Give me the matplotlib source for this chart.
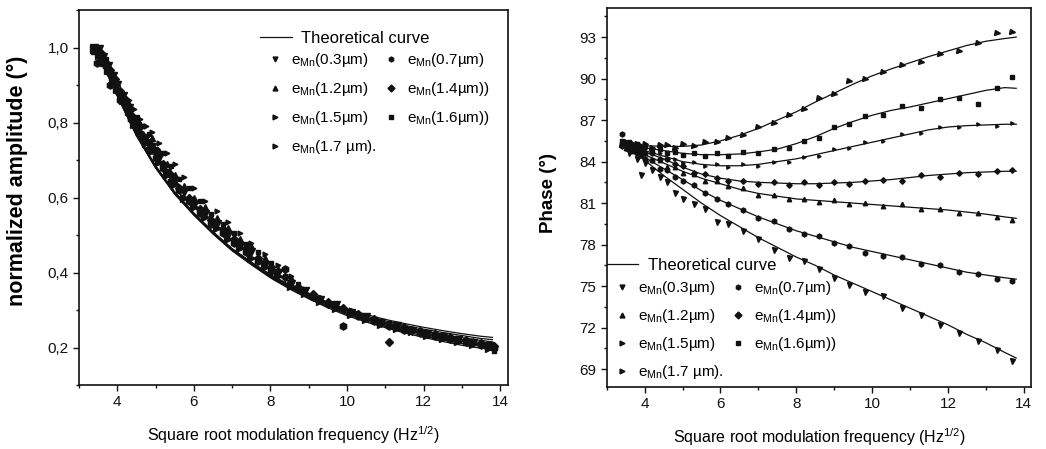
import matplotlib
matplotlib.use("Agg")
import matplotlib.pyplot as plt
from matplotlib.ticker import MultipleLocator

plt.rcParams["font.family"] = ["Liberation Sans", "DejaVu Sans"]
plt.rcParams["mathtext.default"] = "regular"

LABELS = ["(0.3µm)", "(0.7µm)", "(1.2µm)", "(1.4µm))", "(1.5µm)", "(1.6µm))", "(1.7 µm)."]
MARKERS = ["v", "h", "^", "D", ">", "s", ">"]
MSIZES = [4.5, 4.5, 4.0, 3.5, 3.0, 3.0, 4.5]

# grid of the theoretical curves (sqrt Hz)
TH_X = [3.4, 3.6, 3.8, 4.0, 4.5, 5.0, 5.5, 6.0, 6.5, 7.0, 7.5, 8.0, 8.5, 9.0,
        9.5, 10.0, 10.5, 11.0, 11.5, 12.0, 12.5, 13.0, 13.5, 13.8]

# ---- amplitude panel ----
# two interleaved frequency sets (series 0,2,4,6 on A; 1,3,5 on B)
X_AMP_A = [3.40, 3.52, 3.64, 3.76, 3.88, 4.00, 4.15, 4.30, 4.45, 4.60, 4.75, 4.90, 5.10,
           5.30, 5.50, 5.75, 6.00, 6.30, 6.60, 6.90, 7.20, 7.50, 7.85, 8.20, 8.55, 8.90,
           9.30, 9.70, 10.10, 10.50, 10.90, 11.30, 11.70, 12.10, 12.50, 12.90, 13.30, 13.70]
X_AMP_B = [3.46, 3.58, 3.70, 3.82, 3.94, 4.07, 4.22, 4.37, 4.52, 4.67, 4.82, 5.00, 5.20,
           5.40, 5.62, 5.88, 6.15, 6.45, 6.75, 7.05, 7.35, 7.68, 8.02, 8.38, 8.72, 9.10,
           9.50, 9.90, 10.30, 10.70, 11.10, 11.50, 11.90, 12.30, 12.70, 13.10, 13.50, 13.85]

AMP_TH = [
    [1.000, 0.960, 0.919, 0.875, 0.771, 0.685, 0.615, 0.559, 0.509, 0.464, 0.428, 0.395, 0.367, 0.342, 0.321, 0.303, 0.288, 0.275, 0.264, 0.254, 0.245, 0.237, 0.230, 0.227],
    [1.000, 0.960, 0.919, 0.875, 0.770, 0.684, 0.614, 0.558, 0.508, 0.463, 0.427, 0.393, 0.365, 0.340, 0.318, 0.300, 0.284, 0.271, 0.259, 0.249, 0.240, 0.232, 0.224, 0.221],
    [1.000, 0.959, 0.918, 0.874, 0.769, 0.683, 0.613, 0.557, 0.507, 0.462, 0.426, 0.392, 0.363, 0.338, 0.316, 0.297, 0.281, 0.267, 0.255, 0.244, 0.235, 0.226, 0.219, 0.215],
    [1.000, 0.959, 0.918, 0.873, 0.768, 0.682, 0.612, 0.556, 0.506, 0.461, 0.425, 0.391, 0.362, 0.336, 0.314, 0.294, 0.278, 0.264, 0.251, 0.240, 0.230, 0.221, 0.213, 0.209],
    [1.000, 0.958, 0.917, 0.872, 0.767, 0.681, 0.611, 0.555, 0.505, 0.460, 0.424, 0.389, 0.360, 0.334, 0.311, 0.291, 0.275, 0.260, 0.247, 0.235, 0.225, 0.216, 0.208, 0.204],
    [1.000, 0.958, 0.917, 0.872, 0.766, 0.680, 0.610, 0.554, 0.504, 0.459, 0.422, 0.387, 0.358, 0.332, 0.309, 0.288, 0.271, 0.256, 0.243, 0.231, 0.220, 0.211, 0.203, 0.199],
    [1.000, 0.957, 0.916, 0.871, 0.765, 0.679, 0.609, 0.553, 0.503, 0.458, 0.421, 0.386, 0.356, 0.330, 0.306, 0.285, 0.268, 0.253, 0.239, 0.227, 0.216, 0.206, 0.198, 0.194],
]
AMP_PTS = [
    [1.00, 0.995, 0.975, 0.95, 0.925, 0.90, 0.87, 0.84, 0.80, 0.785, 0.76, 0.735, 0.705, 0.665, 0.645, 0.615, 0.58, 0.555, 0.53, 0.50, 0.47, 0.455, 0.42, 0.40, 0.37, 0.352, 0.328, 0.313, 0.293, 0.282, 0.266, 0.258, 0.245, 0.236, 0.228, 0.221, 0.213, 0.205],
    [0.96, 0.97, 0.95, 0.90, 0.90, 0.86, 0.85, 0.81, 0.785, 0.76, 0.73, 0.705, 0.68, 0.645, 0.62, 0.59, 0.56, 0.53, 0.505, 0.48, 0.455, 0.43, 0.405, 0.41, 0.355, 0.335, 0.315, 0.258, 0.283, 0.27, 0.258, 0.248, 0.238, 0.23, 0.222, 0.214, 0.207, 0.20],
    [0.99, 0.985, 0.96, 0.955, 0.91, 0.905, 0.875, 0.85, 0.80, 0.795, 0.755, 0.76, 0.725, 0.69, 0.66, 0.63, 0.60, 0.575, 0.545, 0.52, 0.49, 0.47, 0.44, 0.41, 0.385, 0.347, 0.333, 0.308, 0.297, 0.278, 0.27, 0.255, 0.249, 0.236, 0.231, 0.219, 0.217, 0.203],
    [1.00, 0.985, 0.96, 0.94, 0.915, 0.885, 0.86, 0.82, 0.80, 0.765, 0.745, 0.72, 0.69, 0.66, 0.625, 0.60, 0.57, 0.54, 0.515, 0.49, 0.465, 0.44, 0.415, 0.388, 0.362, 0.342, 0.322, 0.305, 0.29, 0.276, 0.215, 0.254, 0.244, 0.235, 0.228, 0.22, 0.212, 0.205],
    [1.00, 0.99, 0.98, 0.935, 0.93, 0.885, 0.88, 0.86, 0.835, 0.81, 0.79, 0.775, 0.745, 0.72, 0.69, 0.655, 0.625, 0.59, 0.565, 0.535, 0.505, 0.48, 0.45, 0.42, 0.39, 0.355, 0.335, 0.315, 0.30, 0.284, 0.272, 0.262, 0.25, 0.241, 0.232, 0.225, 0.217, 0.21],
    [0.995, 0.985, 0.97, 0.935, 0.91, 0.88, 0.855, 0.835, 0.815, 0.79, 0.77, 0.73, 0.72, 0.685, 0.65, 0.625, 0.59, 0.555, 0.53, 0.505, 0.475, 0.455, 0.425, 0.39, 0.37, 0.34, 0.32, 0.30, 0.29, 0.272, 0.265, 0.25, 0.24, 0.232, 0.224, 0.216, 0.21, 0.19],
    [0.995, 0.98, 0.965, 0.94, 0.915, 0.89, 0.86, 0.83, 0.795, 0.775, 0.745, 0.725, 0.695, 0.66, 0.635, 0.60, 0.575, 0.548, 0.518, 0.49, 0.465, 0.44, 0.415, 0.39, 0.365, 0.345, 0.325, 0.305, 0.29, 0.276, 0.264, 0.252, 0.243, 0.234, 0.226, 0.218, 0.21, 0.198],
]

# ---- phase panel ----
X_PH = [3.4, 3.5, 3.6, 3.7, 3.8, 3.9, 4.0, 4.2, 4.4, 4.6, 4.8, 5.0, 5.3, 5.6, 5.9,
        6.2, 6.6, 7.0, 7.4, 7.8, 8.2, 8.6, 9.0, 9.4, 9.8, 10.3, 10.8, 11.3, 11.8,
        12.3, 12.8, 13.3, 13.7]
PH_TH = [
    [85.3, 84.9, 84.5, 84.1, 83.0, 82.0, 81.0, 80.1, 79.3, 78.5, 77.8, 77.1, 76.5, 75.8, 75.2, 74.6, 74.0, 73.4, 72.8, 72.2, 71.5, 70.9, 70.2, 69.8],
    [85.3, 85.0, 84.7, 84.3, 83.5, 82.7, 81.9, 81.2, 80.6, 80.0, 79.5, 79.0, 78.6, 78.2, 77.8, 77.5, 77.2, 76.9, 76.6, 76.3, 76.0, 75.8, 75.6, 75.5],
    [85.3, 85.1, 84.8, 84.5, 83.9, 83.3, 82.8, 82.4, 82.0, 81.7, 81.5, 81.3, 81.2, 81.1, 81.0, 80.9, 80.8, 80.7, 80.6, 80.5, 80.35, 80.2, 80.0, 79.9],
    [85.3, 85.1, 84.9, 84.7, 84.2, 83.6, 83.1, 82.8, 82.6, 82.5, 82.45, 82.4, 82.4, 82.45, 82.5, 82.6, 82.7, 82.85, 83.0, 83.1, 83.2, 83.25, 83.3, 83.3],
    [85.3, 85.2, 85.0, 84.8, 84.4, 84.0, 83.8, 83.7, 83.7, 83.8, 84.0, 84.2, 84.5, 84.8, 85.1, 85.4, 85.7, 86.0, 86.3, 86.5, 86.6, 86.65, 86.7, 86.7],
    [85.3, 85.2, 85.1, 85.0, 84.8, 84.6, 84.5, 84.5, 84.55, 84.7, 84.9, 85.3, 85.8, 86.4, 86.9, 87.35, 87.7, 87.95, 88.25, 88.55, 88.85, 89.15, 89.35, 89.3],
    [85.3, 85.25, 85.2, 85.15, 85.1, 85.1, 85.2, 85.5, 85.9, 86.4, 87.0, 87.6, 88.3, 88.95, 89.6, 90.2, 90.7, 91.15, 91.6, 92.0, 92.4, 92.7, 92.9, 93.0],
]
PH_PTS = [
    [85.4, 85.0, 84.6, 84.9, 84.2, 83.0, 83.9, 83.4, 82.9, 82.5, 81.7, 81.3, 80.9, 80.6, 79.6, 79.5, 79.0, 78.4, 77.6, 77.0, 76.8, 76.2, 75.6, 75.1, 74.6, 74.3, 73.4, 72.9, 72.2, 71.6, 71.0, 70.4, 69.6],
    [86.0, 85.2, 84.9, 85.1, 84.6, 84.6, 84.2, 84.1, 83.5, 83.4, 82.9, 82.6, 82.3, 81.7, 81.3, 80.9, 80.5, 79.9, 79.7, 79.1, 78.8, 78.6, 78.1, 77.9, 77.4, 77.2, 77.1, 76.6, 76.5, 76.0, 75.9, 75.5, 75.4],
    [85.2, 85.0, 85.2, 84.8, 84.9, 84.5, 84.6, 84.1, 84.1, 83.6, 83.6, 83.2, 83.1, 82.6, 82.6, 82.2, 82.1, 81.6, 81.6, 81.3, 81.3, 81.1, 81.2, 80.9, 81.0, 80.8, 80.9, 80.6, 80.6, 80.3, 80.3, 80.0, 79.8],
    [85.1, 85.3, 85.0, 85.1, 84.8, 84.9, 84.6, 84.6, 84.2, 84.2, 83.8, 83.7, 83.2, 83.1, 82.8, 82.6, 82.6, 82.4, 82.5, 82.3, 82.5, 82.3, 82.5, 82.4, 82.6, 82.7, 82.6, 83.0, 82.9, 83.2, 83.1, 83.3, 83.4],
    [85.3, 85.1, 85.3, 85.0, 85.1, 84.8, 84.9, 84.6, 84.6, 84.2, 84.2, 83.9, 84.0, 83.7, 83.8, 83.6, 83.8, 83.7, 84.0, 84.0, 84.3, 84.4, 84.9, 85.0, 85.4, 85.5, 86.0, 86.1, 86.5, 86.5, 86.7, 86.6, 86.8],
    [85.5, 85.2, 85.4, 85.0, 85.3, 84.9, 85.1, 84.8, 84.9, 84.6, 84.7, 84.5, 84.6, 84.4, 84.6, 84.4, 84.7, 84.6, 84.9, 85.0, 85.5, 85.7, 86.5, 86.7, 87.3, 87.4, 88.0, 87.9, 88.5, 88.6, 88.2, 89.3, 90.1],
    [85.2, 85.4, 85.1, 85.3, 85.3, 85.1, 85.3, 85.0, 85.2, 85.2, 85.0, 85.3, 85.1, 85.4, 85.4, 85.7, 85.9, 86.5, 86.8, 87.4, 87.8, 88.6, 88.9, 89.8, 90.0, 90.5, 91.0, 91.2, 91.8, 92.0, 92.6, 93.3, 93.4],
]

AMP_TICKS = [0.2, 0.4, 0.6, 0.8, 1.0]
AMP_TICK_LABELS = ["0,2", "0,4", "0,6", "0,8", "1,0"]
PH_TICKS = [69, 72, 75, 78, 81, 84, 87, 90, 93]
X_TICKS = [4, 6, 8, 10, 12, 14]

INK = "#111111"


def style_axes(ax):
    for sp in ax.spines.values():
        sp.set_linewidth(1.2)
        sp.set_color(INK)
    ax.tick_params(which="both", direction="out", top=False, right=False, colors=INK,
                   labelsize=11, width=1.0)
    ax.tick_params(which="major", length=4)
    ax.tick_params(which="minor", length=2.5)
    ax.set_xlim(3.0, 14.2)
    ax.set_xticks(X_TICKS)
    ax.xaxis.set_minor_locator(MultipleLocator(1))
    ax.set_xlabel(r"Square root modulation frequency (Hz$^{1/2}$)", fontsize=11.5, labelpad=11)


def draw_panel(ax, theory, xs, points, msize_scale=1.0):
    handles = []
    for k in range(len(LABELS)):
        ax.plot(TH_X, theory[k], color=INK, lw=0.9)
        h, = ax.plot(xs[k], points[k], ls="none", marker=MARKERS[k], ms=MSIZES[k] * msize_scale,
                     color=INK, mec=INK, label=r"e$_{Mn}$" + LABELS[k])
        handles.append(h)
    th_line, = ax.plot([], [], color=INK, lw=0.9, label="Theoretical curve")
    return th_line, handles


def add_legends(ax, th_line, handles, anchor_th, anchor_pts, spacing):
    leg1 = ax.legend(handles=[th_line], loc="upper left", bbox_to_anchor=anchor_th,
                     frameon=False, fontsize=12, handlelength=1.9, handletextpad=0.55,
                     borderpad=0, borderaxespad=0)
    ax.add_artist(leg1)
    order = [0, 2, 4, 6, 1, 3, 5]
    leg2 = ax.legend(handles=[handles[i] for i in order], loc="upper left", bbox_to_anchor=anchor_pts,
                     ncol=2, frameon=False, fontsize=11, handlelength=1.0, handletextpad=0.55,
                     columnspacing=0.4, labelspacing=spacing, borderpad=0, borderaxespad=0)
    for h in leg2.legend_handles:
        h.set_markersize(3.5)


fig = plt.figure(figsize=(10.46, 4.49), dpi=100)
ax1 = fig.add_axes([0.0755, 0.1425, 0.410, 0.835])
ax2 = fig.add_axes([0.580, 0.138, 0.406, 0.844])

# left: normalized amplitude
amp_x = [X_AMP_A, X_AMP_B, X_AMP_A, X_AMP_B, X_AMP_A, X_AMP_B, X_AMP_A]
th1, h1 = draw_panel(ax1, AMP_TH, amp_x, AMP_PTS, msize_scale=1.15)
style_axes(ax1)
ax1.set_ylim(0.1, 1.1)
ax1.set_yticks(AMP_TICKS, AMP_TICK_LABELS)
ax1.yaxis.set_minor_locator(MultipleLocator(0.1))
ax1.set_ylabel("normalized amplitude (°)", fontsize=15.5, fontweight="bold")
ax1.yaxis.set_label_coords(-0.119, 0.545)
add_legends(ax1, th1, h1, (0.422, 0.945), (0.44, 0.89), 0.72)

# right: phase
th2, h2 = draw_panel(ax2, PH_TH, [X_PH] * 7, PH_PTS, msize_scale=0.8)
style_axes(ax2)
ax2.set_ylim(67.7, 95.1)
ax2.set_yticks(PH_TICKS)
ax2.yaxis.set_minor_locator(MultipleLocator(1.5))
ax2.set_ylabel("Phase (°)", fontsize=13.5, fontweight="bold")
ax2.yaxis.set_label_coords(-0.118, 0.512)
add_legends(ax2, th2, h2, (0.0, 0.34), (0.019, 0.285), 0.66)

fig.savefig("out.png", dpi=100)
